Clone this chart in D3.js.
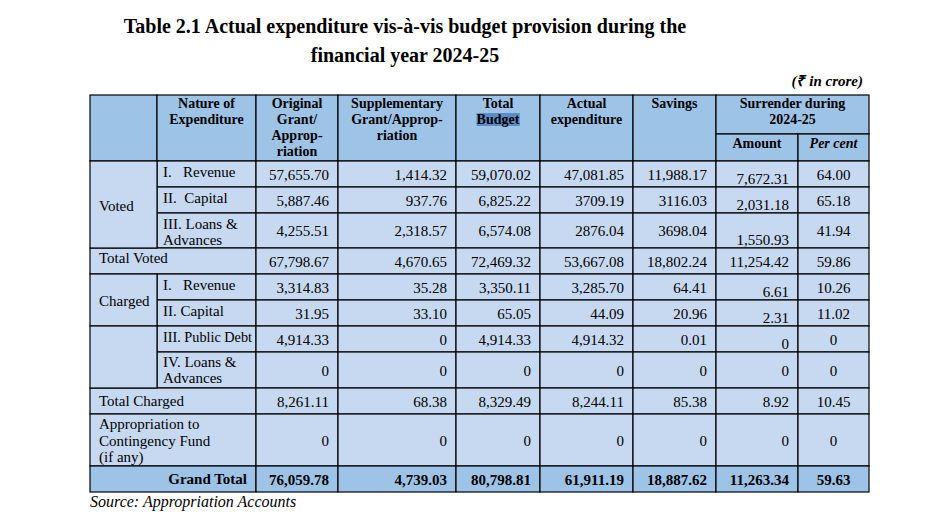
<!DOCTYPE html>
<html>
<head>
<meta charset="utf-8">
<title>Table 2.1</title>
<script src="https://d3js.org/d3.v7.min.js"></script>
<style>
  body { margin: 0; background: #fff; }
  svg text { font-family: "Liberation Serif", "Times New Roman", serif; fill: #000; white-space: pre; }
</style>
</head>
<body>
<svg id="chart" width="938" height="512"></svg>
<script>
// ---- table content ----
var title = ["Table 2.1 Actual expenditure vis-à-vis budget provision during the",
             "financial year 2024-25"];
var unitNote = "(₹ in crore)";
var source = "Source: Appropriation Accounts";

var colHeaders = [[], ["Nature of", "Expenditure"], ["Original", "Grant/", "Approp-", "riation"],
                  ["Supplementary", "Grant/Approp-", "riation"], ["Total", "Budget"],
                  ["Actual", "expenditure"], ["Savings"]];
var surrenderHeader = ["Surrender during", "2024-25"];
var surrenderSub = ["Amount", "Per cent"];

var groupLabels = ["Voted", "Charged", ""];
var rowLabels = [["I.   Revenue"], ["II.  Capital"], ["III. Loans &", "Advances"], ["Total Voted"],
                 ["I.   Revenue"], ["II. Capital"], ["III. Public Debt"], ["IV. Loans &", "Advances"],
                 ["Total Charged"], ["Appropriation to", "Contingency Fund", "(if any)"], ["Grand Total"]];

var original      = ["57,655.70", "5,887.46", "4,255.51", "67,798.67", "3,314.83", "31.95", "4,914.33", "0", "8,261.11", "0", "76,059.78"];
var supplementary = ["1,414.32", "937.76", "2,318.57", "4,670.65", "35.28", "33.10", "0", "0", "68.38", "0", "4,739.03"];
var totalBudget   = ["59,070.02", "6,825.22", "6,574.08", "72,469.32", "3,350.11", "65.05", "4,914.33", "0", "8,329.49", "0", "80,798.81"];
var actual        = ["47,081.85", "3709.19", "2876.04", "53,667.08", "3,285.70", "44.09", "4,914.32", "0", "8,244.11", "0", "61,911.19"];
var savings       = ["11,988.17", "3116.03", "3698.04", "18,802.24", "64.41", "20.96", "0.01", "0", "85.38", "0", "18,887.62"];
var surrAmount    = ["7,672.31", "2,031.18", "1,550.93", "11,254.42", "6.61", "2.31", "0", "0", "8.92", "0", "11,263.34"];
var surrPct       = ["64.00", "65.18", "41.94", "59.86", "10.26", "11.02", "0", "0", "10.45", "0", "59.63"];

// ---- layout ----
var colEdges = [90, 157, 256, 338, 456, 540, 633, 716, 798, 869];
var rowEdges = [95, 161, 187, 213, 248, 274, 300, 326, 352, 388, 414, 466, 492];
var subHeaderY = 134;
var groupRows = [[0, 2], [4, 5], [6, 7]];
var wideRows = [3, 8, 9, 10];
var amountLow = [0, 1, 2, 4, 5, 6];
var labelDy = [16, 16, 16, 15, 16, 16, 16, 15, 18, 15, 18];
var headFill = "#9dc3e6", bodyFill = "#c6d9f1";

var svg = d3.select("#chart");
var x = d3.scaleOrdinal().domain(d3.range(colEdges.length)).range(colEdges);
var y = d3.scaleOrdinal().domain(d3.range(-1, rowEdges.length - 1)).range(rowEdges);

var grid = svg.append("g"), txt = svg.append("g");

function cell(c0, c1, top, bottom, fill) {
  grid.append("rect")
      .attr("x", x(c0)).attr("y", top)
      .attr("width", x(c1) - x(c0)).attr("height", bottom - top)
      .attr("fill", fill).attr("stroke", "#000").attr("stroke-width", 1.2);
}

function lines(arr, xx, y0, opts) {
  var t = txt.append("text")
      .attr("x", xx).attr("y", y0)
      .attr("text-anchor", opts.anchor || "start")
      .attr("font-size", opts.size || 15)
      .attr("font-weight", opts.bold ? "bold" : null)
      .attr("font-style", opts.italic ? "italic" : null);
  t.selectAll("tspan").data(arr).enter().append("tspan")
      .attr("x", xx).attr("dy", function(d, i) { return i ? (opts.lh || 16) : 0; })
      .text(function(d) { return d; })
      .each(function() {
        // squeeze a label that would run past its cell
        if (opts.maxW && this.getComputedTextLength() > opts.maxW)
          d3.select(this).attr("textLength", opts.maxW).attr("lengthAdjust", "spacingAndGlyphs");
      });
  return t;
}

// title, unit, source
lines(title, 405, 33, {anchor: "middle", size: 20, bold: true, lh: 29});
lines([unitNote], 863, 86, {anchor: "end", size: 15, bold: true, italic: true});
lines([source], 90, 507, {size: 16, italic: true});

// header
var hTop = y(-1), hBot = y(0);
colHeaders.forEach(function(h, c) {
  cell(c, c + 1, hTop, hBot, headFill);
});
cell(7, 9, hTop, subHeaderY, headFill);
cell(7, 8, subHeaderY, hBot, headFill);
cell(8, 9, subHeaderY, hBot, headFill);

colHeaders.forEach(function(h, c) {
  if (c === 4) {
    // highlighted "Budget"
    var probe = lines([h[1]], (x(4) + x(5)) / 2, hTop + 29, {anchor: "middle", size: 14, bold: true});
    var bb = probe.node().getBBox();
    probe.remove();
    grid.append("rect").attr("x", bb.x).attr("y", bb.y + 1).attr("width", bb.width).attr("height", bb.height - 2)
        .attr("fill", "#5b8dc8");
  }
  lines(h, (x(c) + x(c + 1)) / 2, hTop + 13, {anchor: "middle", size: 14, bold: true});
});
lines(surrenderHeader, (x(7) + x(9)) / 2, hTop + 13, {anchor: "middle", size: 14, bold: true});
surrenderSub.forEach(function(s, i) {
  lines([s], (x(7 + i) + x(8 + i)) / 2, subHeaderY + 14, {anchor: "middle", size: 14, bold: true, italic: i === 1});
});

// body cells
var valueCols = [original, supplementary, totalBudget, actual, savings, surrAmount, surrPct];
rowLabels.forEach(function(lab, r) {
  var top = y(r), bot = y(r + 1), grand = r === rowLabels.length - 1;
  var fill = grand ? headFill : bodyFill;
  if (wideRows.indexOf(r) >= 0) {
    cell(0, 2, top, bot, fill);
    if (grand) lines(lab, x(2) - 9, top + labelDy[r], {anchor: "end", bold: true});
    else lines(lab, x(0) + 9, top + labelDy[r], {lh: 16.5});
  } else {
    cell(1, 2, top, bot, fill);
    lines(lab, x(1) + 6, top + labelDy[r], {lh: 16, maxW: x(2) - x(1) - 10});
  }
  valueCols.forEach(function(vals, k) {
    var c = k + 2;
    cell(c, c + 1, top, bot, fill);
    var yy = (top + bot) / 2 + 5.5;
    if (c === 7 && amountLow.indexOf(r) >= 0) yy = bot - 3.5;
    if (c === 8) lines([vals[r]], (x(8) + x(9)) / 2, yy, {anchor: "middle", bold: grand});
    else lines([vals[r]], x(c + 1) - 9, yy, {anchor: "end", bold: grand});
  });
});

// group cells in first column
groupRows.forEach(function(g, i) {
  var top = y(g[0]), bot = y(g[1] + 1);
  cell(0, 1, top, bot, bodyFill);
  lines([groupLabels[i]], x(0) + 9, (top + bot) / 2 + 6, {});
});
</script>
</body>
</html>
